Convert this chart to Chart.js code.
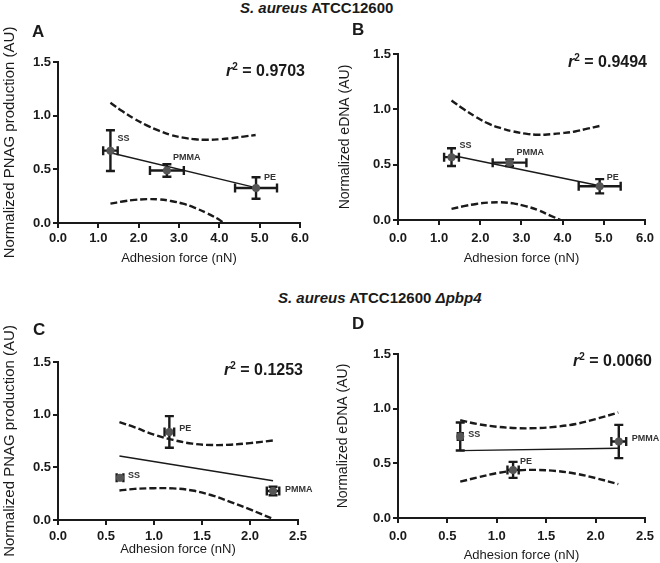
<!DOCTYPE html>
<html>
<head>
<meta charset="utf-8">
<script src="https://cdn.jsdelivr.net/npm/chart.js@4.4.1/dist/chart.umd.min.js"></script>
<style>
  html,body{margin:0;padding:0;background:#fff;}
  #wrap{position:relative;width:660px;height:563px;overflow:hidden;font-family:"Liberation Sans",Arial,sans-serif;color:#1a1a1a;}
  canvas{position:absolute;}
  .t{position:absolute;white-space:nowrap;line-height:1;font-weight:bold;z-index:2;}
  .ttl{font-size:15px;}
  .let{font-size:17px;}
  .r2{font-size:16px;}
  .r2 sup{font-size:10px;vertical-align:6px;line-height:0;}
</style>
</head>
<body>
<div id="wrap">
  <canvas id="cA" width="320" height="250" style="left:0px;top:20px;width:320px;height:250px;"></canvas>
  <canvas id="cB" width="330" height="240" style="left:330px;top:30px;width:330px;height:240px;"></canvas>
  <canvas id="cC" width="320" height="240" style="left:0px;top:320px;width:320px;height:240px;"></canvas>
  <canvas id="cD" width="330" height="243" style="left:330px;top:320px;width:330px;height:243px;"></canvas>
  <div class="t ttl" style="left:240px;top:0px;"><i>S. aureus</i> ATCC12600</div>
  <div class="t ttl" style="left:278px;top:290px;"><i>S. aureus</i> ATCC12600 <i>Δpbp4</i></div>
  <div class="t let" style="left:32px;top:23px;">A</div>
  <div class="t let" style="left:352px;top:21px;">B</div>
  <div class="t let" style="left:33px;top:321px;">C</div>
  <div class="t let" style="left:352px;top:315px;">D</div>
  <div class="t r2" style="right:355px;top:63px;"><i>r</i><sup>2</sup> = 0.9703</div>
  <div class="t r2" style="right:13px;top:54px;"><i>r</i><sup>2</sup> = 0.9494</div>
  <div class="t r2" style="right:357px;top:362px;"><i>r</i><sup>2</sup> = 0.1253</div>
  <div class="t r2" style="right:8px;top:353px;"><i>r</i><sup>2</sup> = 0.0060</div>
</div>
<script>
// ---------- DATA ----------
const materials = ['SS', 'PMMA', 'PE'];

// Panel A: PNAG, ATCC12600
const aForce = [1.30, 2.70, 4.91];
const aForceErr = [0.18, 0.42, 0.52];
const aValue = [0.674, 0.489, 0.326];
const aValueErr = [0.19, 0.058, 0.10];
const aFitX = [1.3, 4.9];
const aFitY = [0.655, 0.330];
const aUpperX = [1.3, 1.6, 1.9, 2.2, 2.5, 2.8, 3.1, 3.4, 3.7, 4.0, 4.3, 4.6, 4.9];
const aUpperY = [1.12, 1.04, 0.97, 0.91, 0.86, 0.82, 0.795, 0.78, 0.775, 0.78, 0.79, 0.805, 0.82];
const aLowerX = [1.3, 1.6, 1.9, 2.2, 2.5, 2.8, 3.1, 3.4, 3.7, 4.0, 4.1];
const aLowerY = [0.18, 0.20, 0.215, 0.222, 0.22, 0.205, 0.18, 0.14, 0.09, 0.03, 0.0];

// Panel B: eDNA, ATCC12600
const bForce = [1.30, 2.71, 4.90];
const bForceErr = [0.18, 0.41, 0.51];
const bValue = [0.568, 0.518, 0.305];
const bValueErr = [0.08, 0.03, 0.064];
const bFitX = [1.3, 4.9];
const bFitY = [0.585, 0.310];
const bUpperX = [1.3, 1.6, 1.9, 2.2, 2.5, 2.8, 3.1, 3.4, 3.7, 4.0, 4.3, 4.6, 4.9];
const bUpperY = [1.08, 1.00, 0.93, 0.87, 0.83, 0.80, 0.78, 0.77, 0.775, 0.785, 0.80, 0.825, 0.85];
const bLowerX = [1.3, 1.6, 1.9, 2.2, 2.5, 2.8, 3.1, 3.4, 3.7, 3.95];
const bLowerY = [0.10, 0.125, 0.145, 0.157, 0.16, 0.15, 0.125, 0.09, 0.04, 0.0];

// Panel C: PNAG, ATCC12600 Δpbp4
const cForce = [0.646, 2.24, 1.16];
const cForceErr = [0.035, 0.065, 0.05];
const cValue = [0.40, 0.275, 0.836];
const cValueErr = [0.02, 0.04, 0.15];
const cFitX = [0.64, 2.24];
const cFitY = [0.608, 0.373];
const cUpperX = [0.64, 0.8, 1.0, 1.2, 1.4, 1.6, 1.8, 2.0, 2.24];
const cUpperY = [0.93, 0.88, 0.81, 0.76, 0.725, 0.712, 0.715, 0.73, 0.755];
const cLowerX = [0.64, 0.8, 1.0, 1.2, 1.4, 1.6, 1.8, 2.0, 2.24];
const cLowerY = [0.28, 0.295, 0.302, 0.30, 0.28, 0.235, 0.17, 0.10, 0.01];

// Panel D: eDNA, ATCC12600 Δpbp4
const dForce = [0.63, 2.235, 1.165];
const dForceErr = [0.025, 0.075, 0.057];
const dValue = [0.745, 0.70, 0.44];
const dValueErr = [0.128, 0.152, 0.073];
const dFitX = [0.63, 2.23];
const dFitY = [0.616, 0.638];
const dUpperX = [0.63, 0.8, 1.0, 1.2, 1.4, 1.6, 1.8, 2.0, 2.23];
const dUpperY = [0.895, 0.86, 0.835, 0.822, 0.822, 0.835, 0.86, 0.905, 0.965];
const dLowerX = [0.63, 0.8, 1.0, 1.2, 1.4, 1.6, 1.8, 2.0, 2.23];
const dLowerY = [0.332, 0.37, 0.41, 0.435, 0.44, 0.43, 0.405, 0.365, 0.31];

// tick / axis labels
const xTitle = 'Adhesion force (nN)';
const yTitlePNAG = 'Normalized PNAG production (AU)';
const yTitleEDNA = 'Normalized eDNA (AU)';

// ---------- helpers ----------
const FONT = '"Liberation Sans", Arial, sans-serif';
const INK = '#1a1a1a';
const pts = (xs, ys) => xs.map((x, i) => ({x: x, y: ys[i]}));

const errPlugin = {
  id: 'errbars',
  beforeDatasetsDraw(chart, args, o) {
    const ctx = chart.ctx, xs = chart.scales.x, ys = chart.scales.y;
    ctx.save();
    ctx.strokeStyle = INK; ctx.lineWidth = 2.4; ctx.lineCap = 'butt';
    const cap = 4.5;
    o.x.forEach((xv, i) => {
      const px = xs.getPixelForValue(xv), py = ys.getPixelForValue(o.y[i]);
      const x1 = xs.getPixelForValue(xv - o.xe[i]), x2 = xs.getPixelForValue(xv + o.xe[i]);
      const y1 = ys.getPixelForValue(o.y[i] - o.ye[i]), y2 = ys.getPixelForValue(o.y[i] + o.ye[i]);
      ctx.beginPath();
      ctx.moveTo(px, y1); ctx.lineTo(px, y2);
      ctx.moveTo(px - cap, y1); ctx.lineTo(px + cap, y1);
      ctx.moveTo(px - cap, y2); ctx.lineTo(px + cap, y2);
      ctx.moveTo(x1, py); ctx.lineTo(x2, py);
      ctx.moveTo(x1, py - cap); ctx.lineTo(x1, py + cap);
      ctx.moveTo(x2, py - cap); ctx.lineTo(x2, py + cap);
      ctx.stroke();
    });
    ctx.restore();
  },
  afterDatasetsDraw(chart, args, o) {
    const ctx = chart.ctx, xs = chart.scales.x, ys = chart.scales.y;
    ctx.save();
    ctx.fillStyle = '#333';
    ctx.font = 'bold 9px ' + FONT;
    ctx.textBaseline = 'middle'; ctx.textAlign = 'left';
    o.names.forEach((n, i) => {
      const px = xs.getPixelForValue(o.x[i]), py = ys.getPixelForValue(o.y[i]);
      ctx.fillText(n, px + o.off[i][0], py + o.off[i][1]);
    });
    ctx.restore();
  }
};

function makePanel(id, d, L) {
  new Chart(document.getElementById(id), {
    type: 'scatter',
    data: {
      datasets: [
        {type: 'scatter', data: pts(d.x, d.y), pointRadius: 4, pointHoverRadius: 4,
         backgroundColor: '#555', borderColor: '#555', borderWidth: 0, order: 0},
        {type: 'line', data: pts(d.fitX, d.fitY), borderColor: INK, borderWidth: 1.4,
         pointRadius: 0, fill: false, order: 1},
        {type: 'line', data: pts(d.upX, d.upY), borderColor: INK, borderWidth: 2.4,
         borderDash: [7, 3], pointRadius: 0, tension: 0.4, fill: false, order: 2},
        {type: 'line', data: pts(d.loX, d.loY), borderColor: INK, borderWidth: 2.4,
         borderDash: [7, 3], pointRadius: 0, tension: 0.4, fill: false, order: 2}
      ]
    },
    options: {
      responsive: false, animation: false, devicePixelRatio: 1,
      layout: {padding: {top: L.top, right: L.right, left: 0, bottom: 0}},
      plugins: {
        legend: {display: false}, tooltip: {enabled: false},
        errbars: {x: d.x, y: d.y, xe: d.xe, ye: d.ye, names: materials, off: L.off}
      },
      scales: {
        x: {
          type: 'linear', min: 0, max: d.xmax,
          afterFit: s => { s.height = L.xh; },
          ticks: {stepSize: d.xstep, color: INK, padding: L.xtp,
                  font: {family: FONT, size: 13, weight: 'bold'},
                  callback: v => Number(v).toFixed(1)},
          grid: {drawOnChartArea: false, drawTicks: true, tickLength: 5, color: INK, lineWidth: 2},
          border: {display: true, color: INK, width: 2},
          title: {display: true, text: xTitle, color: INK, padding: {top: 0, bottom: L.xtt},
                  font: {family: FONT, size: 13}}
        },
        y: {
          type: 'linear', min: 0, max: 1.5,
          afterFit: s => { s.width = L.yw; },
          ticks: {stepSize: 0.5, color: INK, padding: 2,
                  font: {family: FONT, size: 13, weight: 'bold'},
                  callback: v => Number(v).toFixed(1)},
          grid: {drawOnChartArea: false, drawTicks: true, tickLength: 5, color: INK, lineWidth: 2},
          border: {display: true, color: INK, width: 2},
          title: {display: true, text: d.ytitle, color: INK, padding: {top: L.ytt, bottom: 0},
                  font: {family: FONT, size: L.yfs}}
        }
      }
    },
    plugins: [errPlugin]
  });
}

makePanel('cA',
  {x: aForce, xe: aForceErr, y: aValue, ye: aValueErr, fitX: aFitX, fitY: aFitY,
   upX: aUpperX, upY: aUpperY, loX: aLowerX, loY: aLowerY, xmax: 6, xstep: 1, ytitle: yTitlePNAG},
  {top: 42, right: 20, yw: 58, xh: 47, xtp: 3, xtt: 4, ytt: 1, yfs: 15,
   off: [[7, -12], [6, -13], [8, -10]]});

makePanel('cB',
  {x: bForce, xe: bForceErr, y: bValue, ye: bValueErr, fitX: bFitX, fitY: bFitY,
   upX: bUpperX, upY: bUpperY, loX: bLowerX, loY: bLowerY, xmax: 6, xstep: 1, ytitle: yTitleEDNA},
  {top: 24, right: 11, yw: 68, xh: 50, xtp: 6, xtt: 4, ytt: 7, yfs: 14,
   off: [[8, -12], [7, -10], [7, -9]]});

makePanel('cC',
  {x: cForce, xe: cForceErr, y: cValue, ye: cValueErr, fitX: cFitX, fitY: cFitY,
   upX: cUpperX, upY: cUpperY, loX: cLowerX, loY: cLowerY, xmax: 2.5, xstep: 0.5, ytitle: yTitlePNAG},
  {top: 42, right: 22, yw: 58, xh: 40, xtp: 4, xtt: 3, ytt: 1, yfs: 15,
   off: [[8, -2], [12, -2], [10, -3]]});

makePanel('cD',
  {x: dForce, xe: dForceErr, y: dValue, ye: dValueErr, fitX: dFitX, fitY: dFitY,
   upX: dUpperX, upY: dUpperY, loX: dLowerX, loY: dLowerY, xmax: 2.5, xstep: 0.5, ytitle: yTitleEDNA},
  {top: 34, right: 13, yw: 68, xh: 45, xtp: 6, xtt: 0, ytt: 5, yfs: 14,
   off: [[8, -2], [13, -3], [7, -8]]});
</script>
</body>
</html>
